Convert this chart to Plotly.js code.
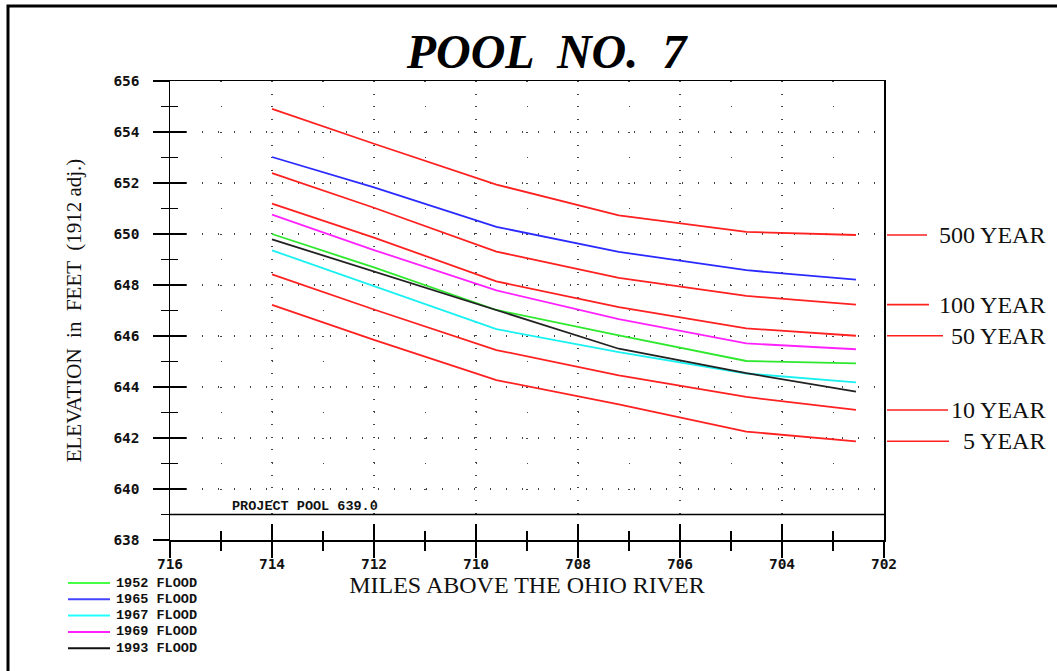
<!DOCTYPE html>
<html>
<head>
<meta charset="utf-8">
<script src="https://cdn.plot.ly/plotly-3.0.1.min.js"></script>
<style>
  html, body { margin: 0; padding: 0; background: #fff; }
  #chart { width: 1057px; height: 671px; }
</style>
</head>
<body>
<div id="chart"></div>
<script>
// ---- data ----
const miles = [714.0, 712.0, 709.6, 707.2, 704.7, 702.55];

const returnNames = ['500 YEAR', '100 YEAR', '50 YEAR', '10 YEAR', '5 YEAR'];
const yr500 = [654.91, 653.54, 651.94, 650.73, 650.08, 649.96];
const yr100 = [652.39, 651.03, 649.31, 648.28, 647.57, 647.23];
const yr50  = [651.19, 649.86, 648.14, 647.13, 646.30, 646.01];
const yr10  = [648.42, 647.04, 645.45, 644.46, 643.61, 643.10];
const yr5   = [647.22, 645.85, 644.27, 643.32, 642.25, 641.87];

const floodNames = ['1952 FLOOD', '1965 FLOOD', '1967 FLOOD', '1969 FLOOD', '1993 FLOOD'];
const f1952 = [650.00, 648.69, 647.02, 646.02, 645.02, 644.93];
const f1965 = [653.02, 651.83, 650.28, 649.30, 648.58, 648.21];
const f1967 = [649.36, 647.96, 646.27, 645.37, 644.53, 644.18];
const f1969 = [650.76, 649.37, 647.79, 646.66, 645.71, 645.48];
const f1993 = [649.79, 648.52, 647.00, 645.50, 644.54, 643.82];

const poolLevel = 639.0;
const poolLabel = 'PROJECT POOL 639.0';

// ---- styles ----
const returnSeries = [yr500, yr100, yr50, yr10, yr5];
const floodSeries = [f1952, f1965, f1967, f1969, f1993];
const floodColors = ['#2ee82e', '#2a2aff', '#19f0f0', '#ff22ff', '#222222'];
const legendColors = ['#44ff44', '#4444ff', '#22ffff', '#ff22ff', '#111111'];
const redColor = '#ff2020';
const labelLineEndPx = [927, 929, 943, 948, 949];

const W = 1057, H = 671;
const M = { l: 170, r: 173, t: 81, b: 131 };
const plotW = W - M.l - M.r, plotH = H - M.t - M.b;
const px2paperX = px => (px - M.l) / plotW;
const py2paperY = py => (H - M.b - py) / plotH;

const traces = [];
returnSeries.forEach((s, i) => {
  traces.push({
    x: miles, y: s, type: 'scatter', mode: 'lines', name: returnNames[i],
    line: { color: redColor, width: 1.8 }, showlegend: false, hoverinfo: 'skip'
  });
});
floodSeries.forEach((s, i) => {
  traces.push({
    x: miles, y: s, type: 'scatter', mode: 'lines', name: floodNames[i],
    line: { color: floodColors[i], width: 1.8 }, showlegend: false, hoverinfo: 'skip'
  });
});
// empty trace to carry the overlay axes (inner half of crossing ticks)
traces.push({ x: [], y: [], xaxis: 'x2', yaxis: 'y2', type: 'scatter', mode: 'lines', showlegend: false, hoverinfo: 'skip' });

const tickFont = { family: 'DejaVu Sans Mono', size: 14.5, color: '#111', weight: 'bold' };

const shapes = [];
const annotations = [];

// project pool line
shapes.push({ type: 'line', xref: 'paper', x0: 0, x1: 1, yref: 'y', y0: poolLevel, y1: poolLevel,
  line: { color: '#000', width: 1.5 } });
annotations.push({ xref: 'paper', x: px2paperX(230), xanchor: 'left', yref: 'y', y: poolLevel,
  yanchor: 'bottom', yshift: -1, showarrow: false, text: poolLabel,
  font: { family: 'Liberation Mono', size: 13.5, color: '#111', weight: 'bold' } });

// right-hand return period labels
returnSeries.forEach((s, i) => {
  const v = s[s.length - 1];
  shapes.push({ type: 'line', xref: 'paper', x0: px2paperX(887), x1: px2paperX(labelLineEndPx[i]),
    yref: 'y', y0: v, y1: v, line: { color: redColor, width: 1.6 } });
  annotations.push({ xref: 'paper', x: px2paperX(1047), xanchor: 'right', yref: 'y', y: v,
    yanchor: 'middle', showarrow: false, text: returnNames[i],
    font: { family: 'Liberation Serif', size: 24, color: '#111' } });
});

// legend (bottom-left)
floodNames.forEach((n, i) => {
  const py = 583 + i * 16.3;
  shapes.push({ type: 'line', xref: 'paper', yref: 'paper', x0: px2paperX(68), x1: px2paperX(110),
    y0: py2paperY(py), y1: py2paperY(py), line: { color: legendColors[i], width: 2 } });
  annotations.push({ xref: 'paper', yref: 'paper', x: px2paperX(114), y: py2paperY(py),
    xanchor: 'left', yanchor: 'middle', showarrow: false, text: n,
    font: { family: 'Liberation Mono', size: 13.5, color: '#111', weight: 'bold' } });
});

// outer frame
shapes.push({ type: 'rect', xref: 'paper', yref: 'paper',
  x0: px2paperX(8), x1: px2paperX(1080), y0: py2paperY(700), y1: py2paperY(6),
  line: { color: '#000', width: 3 } });

const layout = {
  width: W, height: H,
  margin: { l: M.l, r: M.r, t: M.t, b: M.b, pad: 0 },
  paper_bgcolor: '#fff', plot_bgcolor: '#fff',
  showlegend: false,
  title: {
    text: '<b><i>POOL  NO.  7</i></b>',
    font: { family: 'Liberation Serif', size: 48, color: '#000' },
    xref: 'container', x: 0.517, xanchor: 'center',
    yref: 'container', y: 1 - 51 / H, yanchor: 'middle'
  },
  xaxis: {
    range: [716, 702], autorange: false, tickmode: 'linear', tick0: 0, dtick: 2,
    ticks: 'outside', ticklen: 16, tickwidth: 1.5, tickcolor: '#000',
    showline: true, linecolor: '#000', linewidth: 1.5, mirror: true,
    showgrid: true, gridcolor: '#444', gridwidth: 1.5, griddash: '1px,11.7px',
    zeroline: false, tickfont: tickFont, ticklabelstandoff: -6, automargin: false,
    minor: { dtick: 1, ticks: 'outside', ticklen: 9, tickwidth: 1.5, tickcolor: '#000',
      showgrid: true, gridcolor: '#444', gridwidth: 1.5, griddash: '1px,50px' },
    title: { text: 'MILES ABOVE THE OHIO RIVER', standoff: 4,
      font: { family: 'Liberation Serif', size: 24, color: '#111' } }
  },
  yaxis: {
    range: [638, 656], autorange: false, tickmode: 'linear', tick0: 0, dtick: 2,
    ticks: 'outside', ticklen: 16, tickwidth: 1.5, tickcolor: '#000',
    showline: true, linecolor: '#000', linewidth: 1.5, mirror: true,
    showgrid: true, gridcolor: '#444', gridwidth: 1.5, griddash: '1px,15px',
    zeroline: false, tickfont: tickFont, ticklabelstandoff: 10, automargin: false,
    minor: { dtick: 1, ticks: 'outside', ticklen: 8, tickwidth: 1.5, tickcolor: '#000',
      showgrid: true, gridcolor: '#444', gridwidth: 1.5, griddash: '1px,50px' },
    title: { text: 'ELEVATION  in  FEET  (1912 adj.)', standoff: 26,
      font: { family: 'Liberation Serif', size: 21, color: '#111' } }
  },
  xaxis2: {
    overlaying: 'x', anchor: 'y', side: 'bottom',
    range: [716, 702], autorange: false, tickmode: 'linear', tick0: 0, dtick: 2,
    ticks: 'inside', ticklen: 16, tickwidth: 1.5, tickcolor: '#000',
    showticklabels: false, showline: false, showgrid: false, zeroline: false,
    minor: { dtick: 1, ticks: 'inside', ticklen: 9, tickwidth: 1.5, tickcolor: '#000', showgrid: false }
  },
  yaxis2: {
    overlaying: 'y', anchor: 'x', side: 'left',
    range: [638, 656], autorange: false, tickmode: 'linear', tick0: 0, dtick: 2,
    ticks: 'inside', ticklen: 16, tickwidth: 1.5, tickcolor: '#000',
    showticklabels: false, showline: false, showgrid: false, zeroline: false,
    minor: { dtick: 1, ticks: 'inside', ticklen: 8, tickwidth: 1.5, tickcolor: '#000', showgrid: false }
  },
  shapes: shapes,
  annotations: annotations
};

Plotly.newPlot('chart', traces, layout, { staticPlot: true, displayModeBar: false });
</script>
</body>
</html>
